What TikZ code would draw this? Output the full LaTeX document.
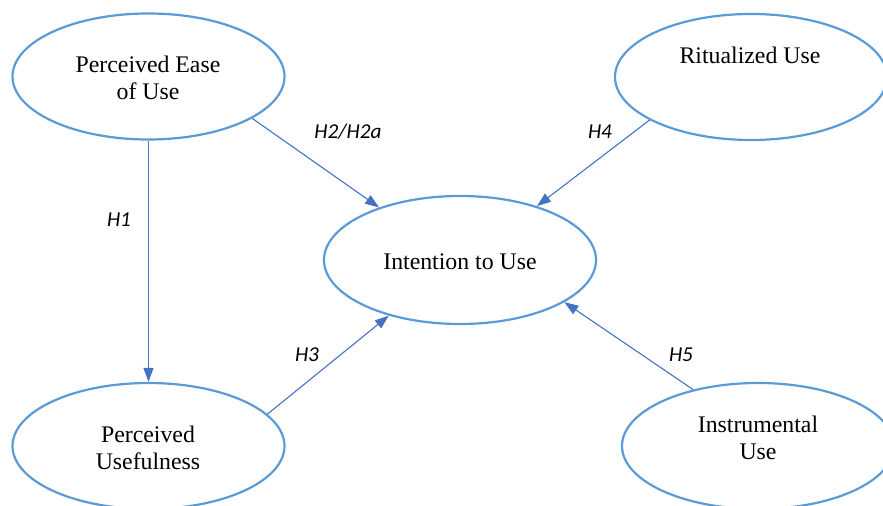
\documentclass[tikz,border=0pt]{standalone}
\usepackage{fontspec}
\setmainfont{Liberation Serif}
\newfontfamily\labfont{Carlito}
\usetikzlibrary{shapes.geometric,arrows.meta}
\definecolor{ellblue}{RGB}{91,155,213}
\definecolor{arrblue}{RGB}{68,114,196}
\begin{document}
\begin{tikzpicture}[x=0.5pt,y=-0.5pt,
  construct/.style={ellipse, draw=ellblue, line width=1.1pt, minimum width=136pt, minimum height=63pt, inner sep=0pt},
  ctext/.style={align=center, font=\fontsize{11.9}{13.5}\selectfont, inner sep=0pt},
  hyp/.style={draw=arrblue, line width=0.55pt, -{Triangle[length=7pt,width=5pt]}},
  hlab/.style={font=\labfont\itshape\fontsize{10.6}{12}\selectfont, inner sep=0pt}]
\useasboundingbox (0,0) rectangle (883,506);
\node[construct] (peou) at (148.5,76.5) {};
\node[construct] (ritu) at (751,77) {};
\node[construct, minimum height=64pt] (itu) at (460,260) {};
\node[construct] (pu) at (148.5,446) {};
\node[construct] (inst) at (758,446) {};
\node[ctext] (peout) at (148,78) {Perceived Ease\\of Use};
\node[ctext] (ritut) at (750,55) {Ritualized Use};
\node[ctext] (itut) at (460,262) {Intention to Use};
\node[ctext] (put) at (148,448) {Perceived\\Usefulness};
\node[ctext] (instt) at (758,438) {Instrumental\\Use};
\draw[hyp] (peou.south) -- (pu.north);
\draw[hyp] (peou.-22) -- (itu.147);
\draw[hyp] (ritu.-157) -- (itu.35);
\draw[hyp] (pu.15) -- (itu.-142);
\draw[hyp] (inst.139) -- (itu.-22);
\node[hlab] (h1) at (119,220) {H1};
\node[hlab] (h2) at (348,132) {H2/H2a};
\node[hlab] (h4) at (600,132) {H4};
\node[hlab] (h3) at (307,355) {H3};
\node[hlab] (h5) at (681,355) {H5};
\end{tikzpicture}
\end{document}
